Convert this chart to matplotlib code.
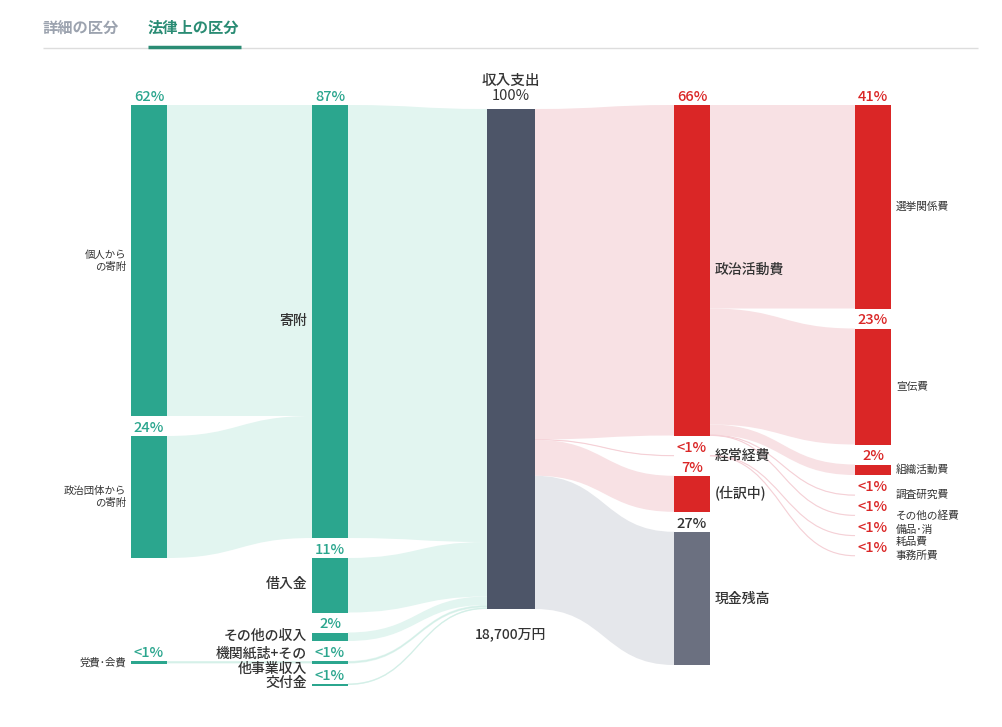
import matplotlib
matplotlib.use('Agg')
import matplotlib.pyplot as plt
from matplotlib.path import Path
from matplotlib.patches import PathPatch, Rectangle

plt.rcParams['font.family'] = ['Noto Sans CJK JP', 'DejaVu Sans']

# ---------------- data (percent of total) ----------------
tab_labels = ['詳細の区分', '法律上の区分']
total_label = '18,700万円'
center_name = '収入支出'
center_value = 100.0

donor_names = ['個人から\nの寄附', '政治団体から\nの寄附', '党費･会費']
donor_values = [62.2, 24.4, 0.5]
donor_targets = ['寄附', '寄附', '機関紙誌+その\n他事業収入']

income_names = ['寄附', '借入金', 'その他の収入', '機関紙誌+その\n他事業収入', '交付金']
income_values = [86.6, 10.9, 1.7, 0.5, 0.3]

expense_names = ['政治活動費', '経常経費', '(仕訳中)', '現金残高']
expense_values = [66.1, 0.06, 7.2, 26.64]

detail_names = ['選挙関係費', '宣伝費', '組織活動費', '調査研究費', 'その他の経費', '備品･消\n耗品費', '事務所費']
detail_values = [40.7, 23.2, 2.1, 0.05, 0.05, 0.03, 0.03]
detail_sources = ['政治活動費'] * 5 + ['経常経費'] * 2

# ---------------- style / layout ----------------
W, H = 1002, 727
SCALE = 5.0      # px per percent
GAP = 20
TOP = 105
CENTER_OFFSET = 4
COLX = {1: (131, 167), 2: (312, 348), 3: (487, 535), 4: (674, 710), 5: (855, 891)}
GREEN = '#2BA68E'
GREEN_LINK = '#E2F5F0'
GREEN_THIN = '#D3EFE7'
CENTER_C = '#4D5568'
RED = '#DA2626'
RED_LINK = '#F8E1E4'
RED_THIN = '#F5D0D6'
CASH = '#6B7080'
CASH_LINK = '#E5E7EB'
DARK = '#333333'

fig = plt.figure(figsize=(W / 100, H / 100), dpi=100)
ax = fig.add_axes([0, 0, 1, 1])
ax.set_xlim(0, W)
ax.set_ylim(H, 0)
ax.axis('off')

nodes = {}


def stack(names, values, col, top):
    y = top
    for n, v in zip(names, values):
        nodes[n] = dict(col=col, v=v, y0=y, y1=y + v * SCALE, out=0.0, inn=0.0)
        y = y + v * SCALE + GAP


stack(income_names, income_values, 2, TOP)
stack(donor_names[:2], donor_values[:2], 1, TOP)
# party fee node aligned to its target
t = nodes[donor_targets[2]]
nodes[donor_names[2]] = dict(col=1, v=donor_values[2], y0=t['y0'], y1=t['y0'] + donor_values[2] * SCALE, out=0.0, inn=0.0)
nodes[center_name] = dict(col=3, v=center_value, y0=TOP + CENTER_OFFSET,
                          y1=TOP + CENTER_OFFSET + center_value * SCALE, out=0.0, inn=0.0)
stack(expense_names, expense_values, 4, TOP)
stack(detail_names, detail_values, 5, TOP)

links = []
for n, v, tg in zip(donor_names, donor_values, donor_targets):
    links.append((n, tg, v, GREEN_LINK, GREEN_THIN))
for n, v in zip(income_names, income_values):
    links.append((n, center_name, v, GREEN_LINK, GREEN_THIN))
for n, v in zip(expense_names, expense_values):
    c = CASH_LINK if n == '現金残高' else RED_LINK
    links.append((center_name, n, v, c, RED_THIN))
for n, v, s in zip(detail_names, detail_values, detail_sources):
    links.append((s, n, v, RED_LINK, RED_THIN))


def band(x0, a0, b0, x1, a1, b1, color, thin):
    xm = (x0 + x1) / 2
    verts = [(x0, a0), (xm, a0), (xm, a1), (x1, a1), (x1, b1), (xm, b1), (xm, b0), (x0, b0), (x0, a0)]
    codes = [Path.MOVETO, Path.CURVE4, Path.CURVE4, Path.CURVE4, Path.LINETO,
             Path.CURVE4, Path.CURVE4, Path.CURVE4, Path.CLOSEPOLY]
    ax.add_patch(PathPatch(Path(verts, codes), facecolor=color, edgecolor='none', zorder=1))
    if (b0 - a0) < 3:
        cm0 = (a0 + b0) / 2
        cm1 = (a1 + b1) / 2
        p = Path([(x0, cm0), (xm, cm0), (xm, cm1), (x1, cm1)],
                 [Path.MOVETO, Path.CURVE4, Path.CURVE4, Path.CURVE4])
        ax.add_patch(PathPatch(p, facecolor='none', edgecolor=thin, lw=0.8, zorder=1))


for s, tg, v, c, thin in links:
    ns, nt = nodes[s], nodes[tg]
    h = v * SCALE
    a0 = ns['y0'] + ns['out']
    a1 = nt['y0'] + nt['inn']
    ns['out'] += h
    nt['inn'] += h
    band(COLX[ns['col']][1], a0, a0 + h, COLX[nt['col']][0], a1, a1 + h, c, thin)


def pct(v):
    return '<1%' if v < 1 else f'{round(v)}%'


for n, nd in nodes.items():
    col = nd['col']
    x0, x1 = COLX[col]
    h = nd['y1'] - nd['y0']
    if col in (1, 2):
        fc = GREEN
        h = max(h, 2)
    elif col == 3:
        fc = CENTER_C
    elif n == '現金残高':
        fc = CASH
    else:
        fc = RED
    if h >= 1:
        ax.add_patch(Rectangle((x0, nd['y0']), x1 - x0, h, facecolor=fc, edgecolor='none', zorder=2))
    xc = (x0 + x1) / 2
    ym = (nd['y0'] + nd['y1']) / 2
    if col == 3:
        ax.text(xc, nd['y0'] - 13, pct(nd['v']), ha='center', va='center', fontsize=10.5, color=DARK)
        ax.text(xc, nd['y0'] - 28, n, ha='center', va='center', fontsize=10.5, color=DARK, fontweight='medium')
        ax.text(xc, nd['y1'] + 25, total_label, ha='center', va='center', fontsize=10, color=DARK,
                fontweight='medium')
        continue
    pc = GREEN if col in (1, 2) else (DARK if n == '現金残高' else RED)
    ax.text(xc, nd['y0'] - 8, pct(nd['v']), ha='center', va='center', fontsize=10.5, color=pc,
            fontweight='medium')
    if col == 1:
        ax.text(x0 - 5, ym, n, ha='right', va='center', fontsize=7.5, color=DARK, linespacing=1.25)
    elif col == 2:
        ax.text(x0 - 5, ym - 1, n, ha='right', va='center', fontsize=10, color=DARK, linespacing=1.1,
                fontweight='medium')
    elif col == 4:
        ax.text(x1 + 5, ym, n, ha='left', va='center', fontsize=10, color=DARK, fontweight='medium')
    else:
        ax.text(x1 + 5, ym, n, ha='left', va='center', fontsize=7.7, color=DARK, linespacing=1.25)

# tabs
ax.text(43, 28, tab_labels[0], ha='left', va='center', fontsize=11, color='#9CA3AF', fontweight='bold')
ax.text(148, 28, tab_labels[1], ha='left', va='center', fontsize=11, color='#2A8C74', fontweight='bold')
ax.plot([43, 978], [48, 48], color='#DDDDDD', lw=1, solid_capstyle='butt')
ax.plot([148, 241], [47, 47], color='#2A8C74', lw=2.5, solid_capstyle='butt')

fig.savefig('out.png', dpi=100)
